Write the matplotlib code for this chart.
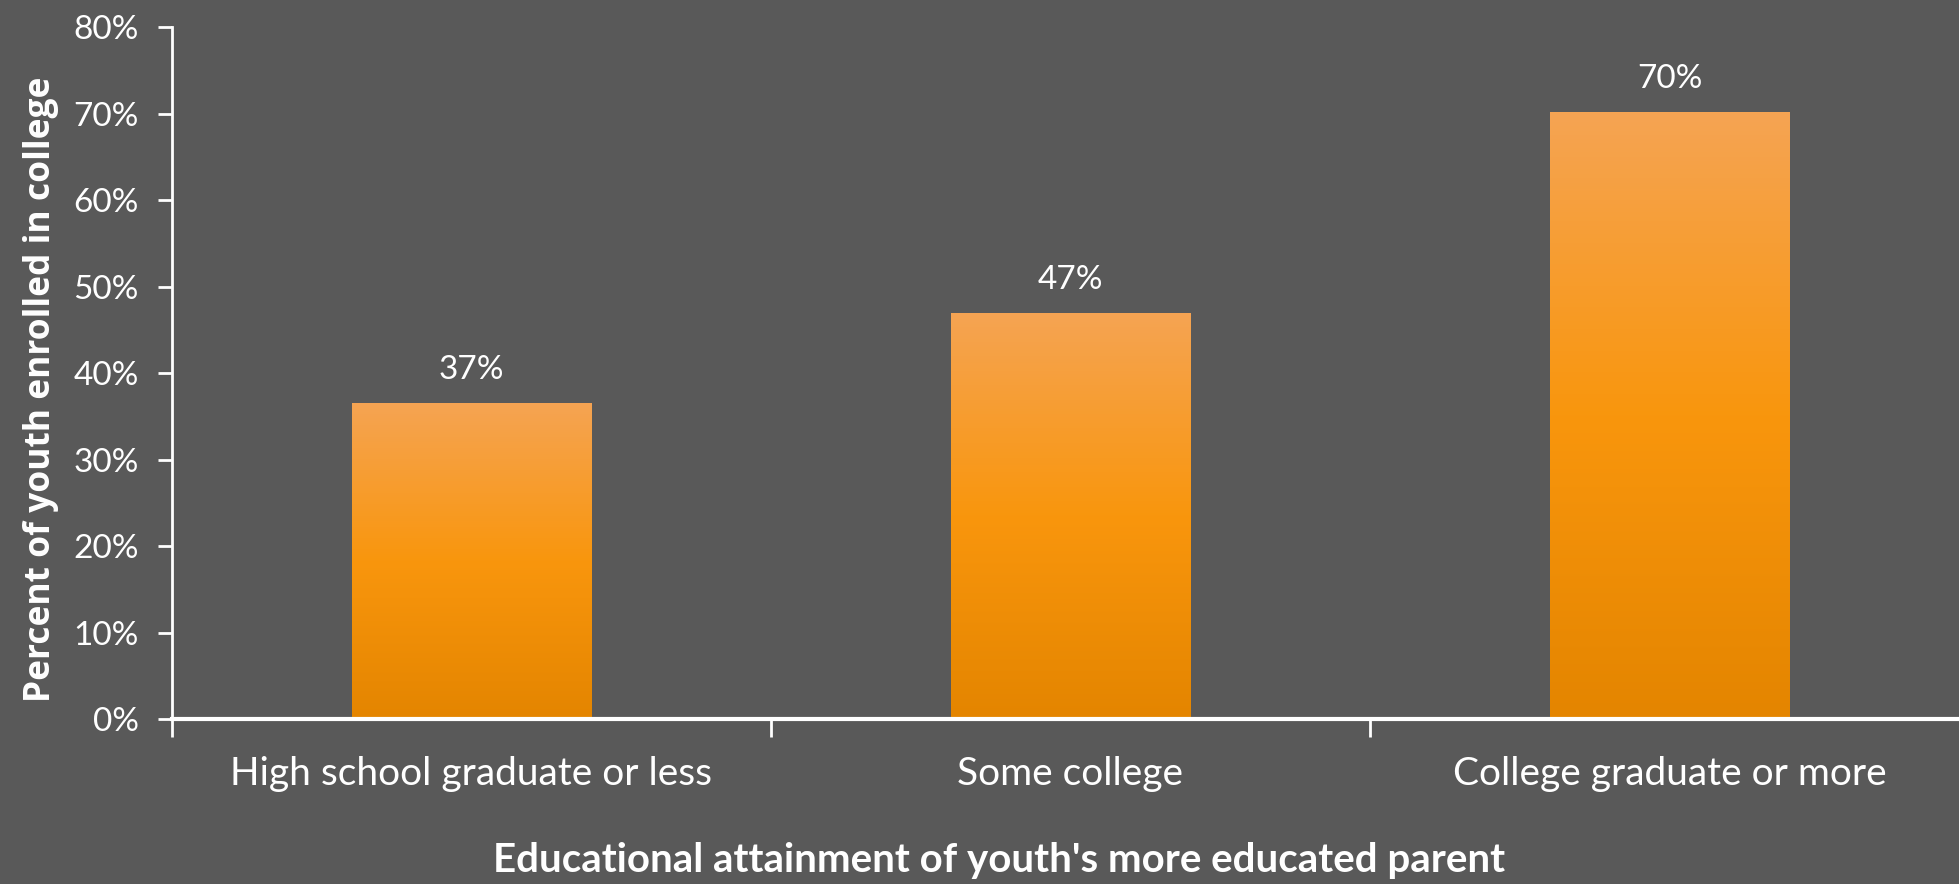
import numpy as np
import matplotlib
matplotlib.use("Agg")
import matplotlib.pyplot as plt
from matplotlib.colors import LinearSegmentedColormap

# Enrollment by parent education
categories = ["High school graduate or less", "Some college", "College graduate or more"]
enrolled_pct = [36.6, 47.0, 70.2]
y_ticks = [0, 10, 20, 30, 40, 50, 60, 70, 80]

bg = "#595959"
fg = "white"
bar_grad = LinearSegmentedColormap.from_list(
    "bar_grad", [(0.0, "#E48500"), (0.5, "#F9960D"), (1.0, "#F5A453")])

plt.rcParams["font.family"] = ["Lato", "DejaVu Sans"]

fig = plt.figure(figsize=(19.59, 8.84), dpi=100, facecolor=bg)
ax = fig.add_axes([0.0878, 0.1867, 0.9173, 0.7822], facecolor=bg)

x = np.arange(len(categories))
bars = ax.bar(x, enrolled_pct, width=0.4, color="none", edgecolor="none")

# vertical gradient fill clipped to each bar
grad = np.linspace(0, 1, 256).reshape(-1, 1)
for b in bars:
    x0, y0 = b.get_x(), b.get_y()
    im = ax.imshow(grad, cmap=bar_grad, origin="lower", aspect="auto",
                   extent=[x0, x0 + b.get_width(), y0, y0 + b.get_height()],
                   zorder=2)
    im.set_clip_path(b)

for xi, v in zip(x, enrolled_pct):
    ax.text(xi, v + 3.8, f"{v:.0f}%", ha="center", va="center",
            color=fg, fontsize=24)

ax.set_xlim(-0.5, 2.5)
ax.set_ylim(0, 80)
ax.set_yticks(y_ticks)
ax.set_yticklabels([f"{t}%" for t in y_ticks])
ax.set_xticks(x)
ax.set_xticklabels(categories)
ax.set_xticks([-0.5, 0.5, 1.5, 2.5], minor=True)

ax.tick_params(axis="x", which="major", length=0, pad=27, labelsize=28, colors=fg)
ax.tick_params(axis="x", which="minor", length=13, width=2, color=fg)
ax.tick_params(axis="y", length=10, width=2, pad=14, labelsize=24, colors=fg)

for side in ["top", "right"]:
    ax.spines[side].set_visible(False)
ax.spines["left"].set_color(fg)
ax.spines["left"].set_linewidth(2)
ax.spines["bottom"].set_color(fg)
ax.spines["bottom"].set_linewidth(3)
ax.spines["bottom"].set_zorder(3)

fig.text(0.51, 0.027, "Educational attainment of youth's more educated parent",
         ha="center", va="center", color=fg, fontsize=29, fontweight="bold")
fig.text(0.021, 0.56, "Percent of youth enrolled in college", rotation=90,
         ha="center", va="center", color=fg, fontsize=25.5, fontweight="bold",
         family=["Open Sans", "DejaVu Sans"])

fig.savefig("out.png", dpi=100, facecolor=bg)
